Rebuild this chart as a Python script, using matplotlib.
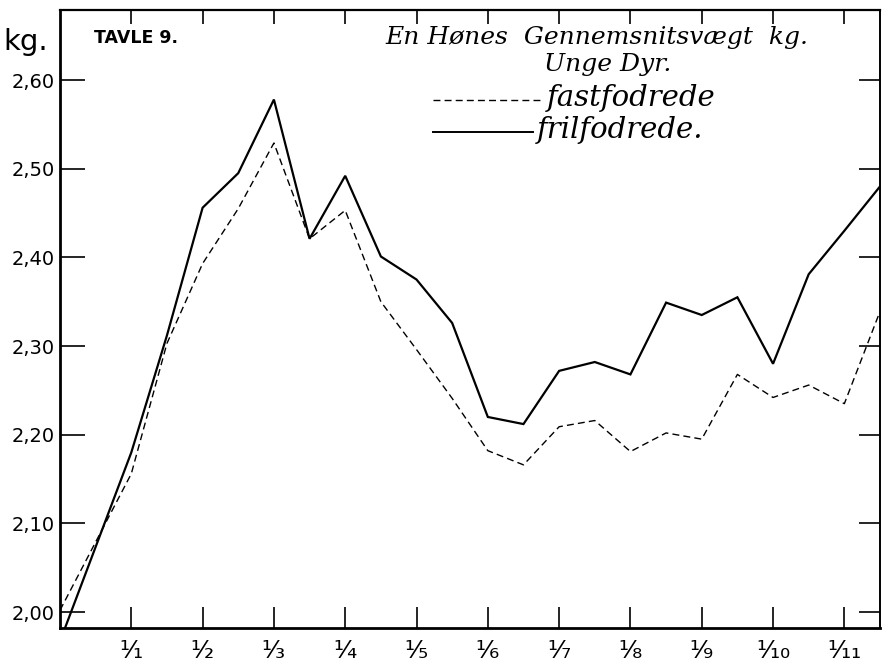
import numpy as np
import matplotlib
matplotlib.use("Agg")
import matplotlib.pyplot as plt
from matplotlib.lines import Line2D

# months from 1/12 (0) to mid november (11.5), half-month readings
maaned = [0, 1, 1.5, 2, 2.5, 3, 3.5, 4, 4.5, 5, 5.5, 6, 6.5, 7, 7.5, 8,
          8.5, 9, 9.5, 10, 10.5, 11, 11.5]
frilfodrede = [1.967, 2.180, 2.312, 2.456, 2.495, 2.578, 2.421, 2.492, 2.401,
               2.375, 2.326, 2.220, 2.212, 2.272, 2.282, 2.268, 2.349, 2.335,
               2.355, 2.280, 2.381, 2.430, 2.480]
fastfodrede = [2.002, 2.156, 2.303, 2.393, 2.455, 2.529, 2.421, 2.453, 2.350,
               2.296, 2.241, 2.182, 2.166, 2.209, 2.216, 2.181, 2.202, 2.195,
               2.268, 2.242, 2.256, 2.235, 2.339]

y_ticks = [2.00, 2.10, 2.20, 2.30, 2.40, 2.50, 2.60]
y_labels = ["2,00", "2,10", "2,20", "2,30", "2,40", "2,50", "2,60"]
x_ticks = list(range(1, 12))
x_labels = ["¹⁄₁", "¹⁄₂", "¹⁄₃", "¹⁄₄", "¹⁄₅", "¹⁄₆", "¹⁄₇", "¹⁄₈", "¹⁄₉", "¹⁄₁₀", "¹⁄₁₁"]

fig = plt.figure(figsize=(8.82, 6.69), dpi=100)
ax = fig.add_axes([60 / 882, 1 - 628 / 669, 820 / 882, 618 / 669])

ax.plot(maaned, frilfodrede, color="black", lw=1.6, solid_joinstyle="miter")
ax.plot(maaned, fastfodrede, color="black", lw=1.0, ls=(0, (5, 3)))

ax.set_xlim(0, 11.5)
ax.set_ylim(1.982, 2.679)

ax.set_yticks(y_ticks)
ax.set_yticklabels(y_labels, fontsize=14, family="DejaVu Sans")
ax.set_xticks(x_ticks)
ax.set_xticklabels(x_labels, fontsize=18, family="DejaVu Sans")
ax.tick_params(axis="y", direction="in", length=18, width=1.2, pad=4,
               right=True)
ax.tick_params(axis="x", direction="in", length=15, width=1.2, pad=8,
               top=True)
# shorter ticks along the top edge
for t in ax.xaxis.get_major_ticks():
    t.tick2line.set_markersize(10)
for t in ax.yaxis.get_major_ticks():
    t.tick2line.set_markersize(15)

for side in ["left", "bottom"]:
    ax.spines[side].set_linewidth(2.0)
ax.spines["top"].set_linewidth(1.6)
ax.spines["right"].set_linewidth(1.4)

# texts
fig.text(3 / 882, 1 - 42 / 669, "kg.", fontsize=21, va="center", ha="left")
ax.text(0.042, 0.955, "TAVLE 9.", transform=ax.transAxes, fontsize=12.5,
        fontweight="bold", va="center", ha="left")
ax.text(0.655, 0.955, "En Hønes  Gennemsnitsvægt  kg.", transform=ax.transAxes,
        fontsize=18, style="italic", family="DejaVu Serif", va="center",
        ha="center")
ax.text(0.668, 0.912, "Unge Dyr.", transform=ax.transAxes, fontsize=18,
        style="italic", family="DejaVu Serif", va="center", ha="center")

# legend drawn by hand
ax.add_line(Line2D([373 / 820, 480 / 820], [0.855, 0.855], transform=ax.transAxes,
                   color="black", lw=1.0, ls=(0, (5, 3))))
ax.text(487 / 820, 0.858, "fastfodrede", transform=ax.transAxes, fontsize=21,
        style="italic", family="DejaVu Serif", va="center", ha="left")
ax.add_line(Line2D([373 / 820, 473 / 820], [0.803, 0.803], transform=ax.transAxes,
                   color="black", lw=1.4))
ax.text(477 / 820, 0.806, "frilfodrede.", transform=ax.transAxes, fontsize=21,
        style="italic", family="DejaVu Serif", va="center", ha="left")

plt.savefig("out.png", dpi=100)
